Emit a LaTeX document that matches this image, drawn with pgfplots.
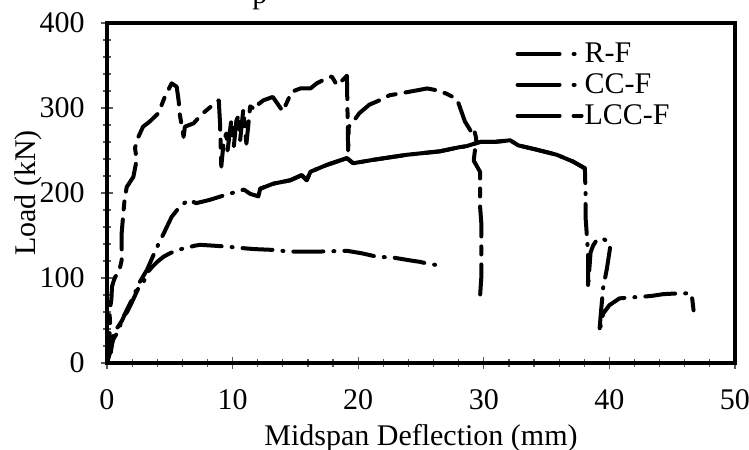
\documentclass[border=0pt]{standalone}
\usepackage{fontspec}
\setmainfont{Liberation Serif}
\usepackage{pgfplots}
\pgfplotsset{compat=1.18}
\begin{document}
\begin{tikzpicture}[font=\fontsize{15}{18}\selectfont]
\begin{axis}[name=ax, scale only axis, width=314pt, height=170pt,
  xmin=0, xmax=50, ymin=0, ymax=400,
  xtick={0,10,...,50}, ytick={0,100,...,400},
  minor x tick num=4, minor y tick num=4,
  tick pos=left, tick align=center,
  major tick length=6pt, minor tick length=4pt,
  every tick/.style={black!65, line width=0.6pt},
  axis line style={line width=1.8pt},
  /pgf/number format/assume math mode=true,
  xticklabel style={yshift=-6.5pt},
  yticklabel style={xshift=-4.6pt},
  xlabel={Midspan Deflection (mm)}, ylabel={Load (kN)},
  xlabel style={at={(axis description cs:0.5,-0.159)}, anchor=north},
  ylabel style={at={(axis description cs:-0.0924,0.5)}, anchor=south},
  legend style={at={(axis description cs:0.65,0.955)}, anchor=north west,
    draw=none, fill=none, inner sep=0pt, row sep=0pt,
    /tikz/every odd column/.append style={column sep=-1.5pt}},
  legend cell align=left,
  every axis plot/.append style={black, line width=2pt, line cap=round, line join=round},
]
% R-F
\addplot[dash pattern=on 15pt off 5pt on 0.5pt off 5pt,
  legend image code/.code={\draw[black, line width=2pt, line cap=round, dash pattern=on 21pt off 7pt on 0.5pt off 7pt] (0pt,0pt) -- (29pt,0pt);}]
coordinates {(0,0) (0.3,15) (0.5,28) (0.8,35) (1.0,42) (1.3,55) (1.6,60) (2.0,72) (2.5,88) (2.9,95) (3.3,108) (3.6,113) (4.0,119) (4.5,125) (5.0,129) (5.6,133) (6.2,135) (7.0,138) (7.4,139) (8.5,138) (9.5,137) (10.9,135) (11.7,134) (13.3,133) (14.5,131) (15.4,131) (16.7,131) (18,131.5) (19.1,132) (20.3,129) (21.5,125) (22.8,124) (24.0,121) (24.9,119) (25.8,116) (26.5,115) (26.9,115)};
\addlegendentry{R-F}
% CC-F
\addplot[dash pattern=on 15pt off 5pt on 0.5pt off 5pt,
  legend image code/.code={\draw[black, line width=2pt, line cap=round, dash pattern=on 21pt off 7pt on 0.5pt off 7pt] (0pt,0pt) -- (29pt,0pt);}]
coordinates {(0,0) (0.1,8) (0.25,20) (0.3,12) (0.45,30) (0.6,38) (0.9,43) (1.2,50) (1.5,60) (2.0,75) (2.6,95) (3.2,110) (3.7,127) (4.1,140) (4.6,155) (5.15,172) (5.8,184) (6.5,192) (7.1,188) (8.2,192) (9.5,198) (10.9,204) (11.4,199) (12.05,196) (12.2,205) (13.25,211) (14.6,215) (15.5,221) (15.9,215) (16.2,225) (17.5,233) (19.1,241) (19.6,235) (21.2,239) (23.9,245) (26.5,249) (28.1,254) (28.6,255) (29.7,260) (30.8,260) (32.1,262) (32.75,256) (34.2,251) (35.8,245) (37.1,237) (38.05,229) (38.1,200) (38.1,172) (38.2,151) (38.3,130) (38.3,88) (38.4,110) (38.5,130) (38.7,138) (39.0,145) (39.5,146) (39.9,143) (40.05,135) (39.8,111) (39.5,88) (39.3,55) (39.2,36) (39.5,58) (40.0,68) (40.8,76) (41.6,77) (42.7,78) (43.4,79) (44.3,81) (45.6,82) (46.5,82) (46.6,75) (46.7,62)};
\addlegendentry{CC-F}
% LCC-F
\addplot[dash pattern=on 15pt off 5pt on 4pt off 5pt,
  legend image code/.code={\draw[black, line width=2pt, line cap=round, dash pattern=on 21pt off 7pt on 4pt off 7pt] (0pt,0pt) -- (32pt,0pt);}]
coordinates {(0,0) (0.15,20) (0.25,45) (0.2,60) (0.35,75) (0.4,90) (0.5,95) (0.64,101) (0.9,106) (1.0,110) (1.17,121) (1.17,153) (1.3,176) (1.4,192) (1.57,207) (2.1,219) (2.36,239) (2.23,253) (2.5,266) (2.87,278) (3.4,284) (4.1,294) (4.6,313) (5.15,329) (5.55,325) (5.7,309) (5.8,292) (6.1,266) (6.2,278) (6.9,282) (7.5,292) (8.3,302) (8.9,309) (9.0,282) (9.1,231) (9.3,262) (9.5,270) (9.6,250) (9.9,286) (10.1,255) (10.3,285) (10.5,292) (10.6,262) (10.85,298) (11.1,258) (11.4,302) (11.8,298) (12.1,305) (12.45,309) (13.2,313) (14.0,296) (14.7,319) (15.4,323) (16.2,323) (16.7,329) (17.5,335) (17.9,337) (18.3,327) (18.7,332) (19.1,338) (19.2,250) (19.25,278) (19.6,284) (20.1,294) (20.9,304) (21.7,309) (22.5,315) (23.3,317) (24.4,320) (25.5,323) (26.2,321) (27.0,317) (27.8,311) (28.0,305) (28.5,284) (29.0,272) (29.2,276) (29.4,264) (29.2,238) (29.7,225) (29.7,185) (29.8,165) (29.8,120) (29.8,100) (29.7,78)};
\addlegendentry{LCC-F}
% dense part of CC-F drawn solid
\addplot[solid, forget plot]
coordinates {(12.2,205) (13.25,211) (14.6,215) (15.5,221) (15.9,215) (16.2,225) (17.5,233) (19.1,241) (19.6,235) (21.2,239) (23.9,245) (26.5,249) (28.1,254) (28.6,255) (29.7,260) (30.8,260) (32.1,262) (32.75,256) (34.2,251) (35.8,245) (37.1,237) (38.05,229)};
\end{axis}
\node[anchor=base west, inner sep=0pt] at ([xshift=72.5pt,yshift=9.75pt]ax.north west) {p};
\pgfresetboundingbox
\path[use as bounding box] ([xshift=-53.5pt,yshift=-43.5pt]ax.south west) rectangle ([xshift=7pt,yshift=11.5pt]ax.north east);
\end{tikzpicture}
\end{document}
